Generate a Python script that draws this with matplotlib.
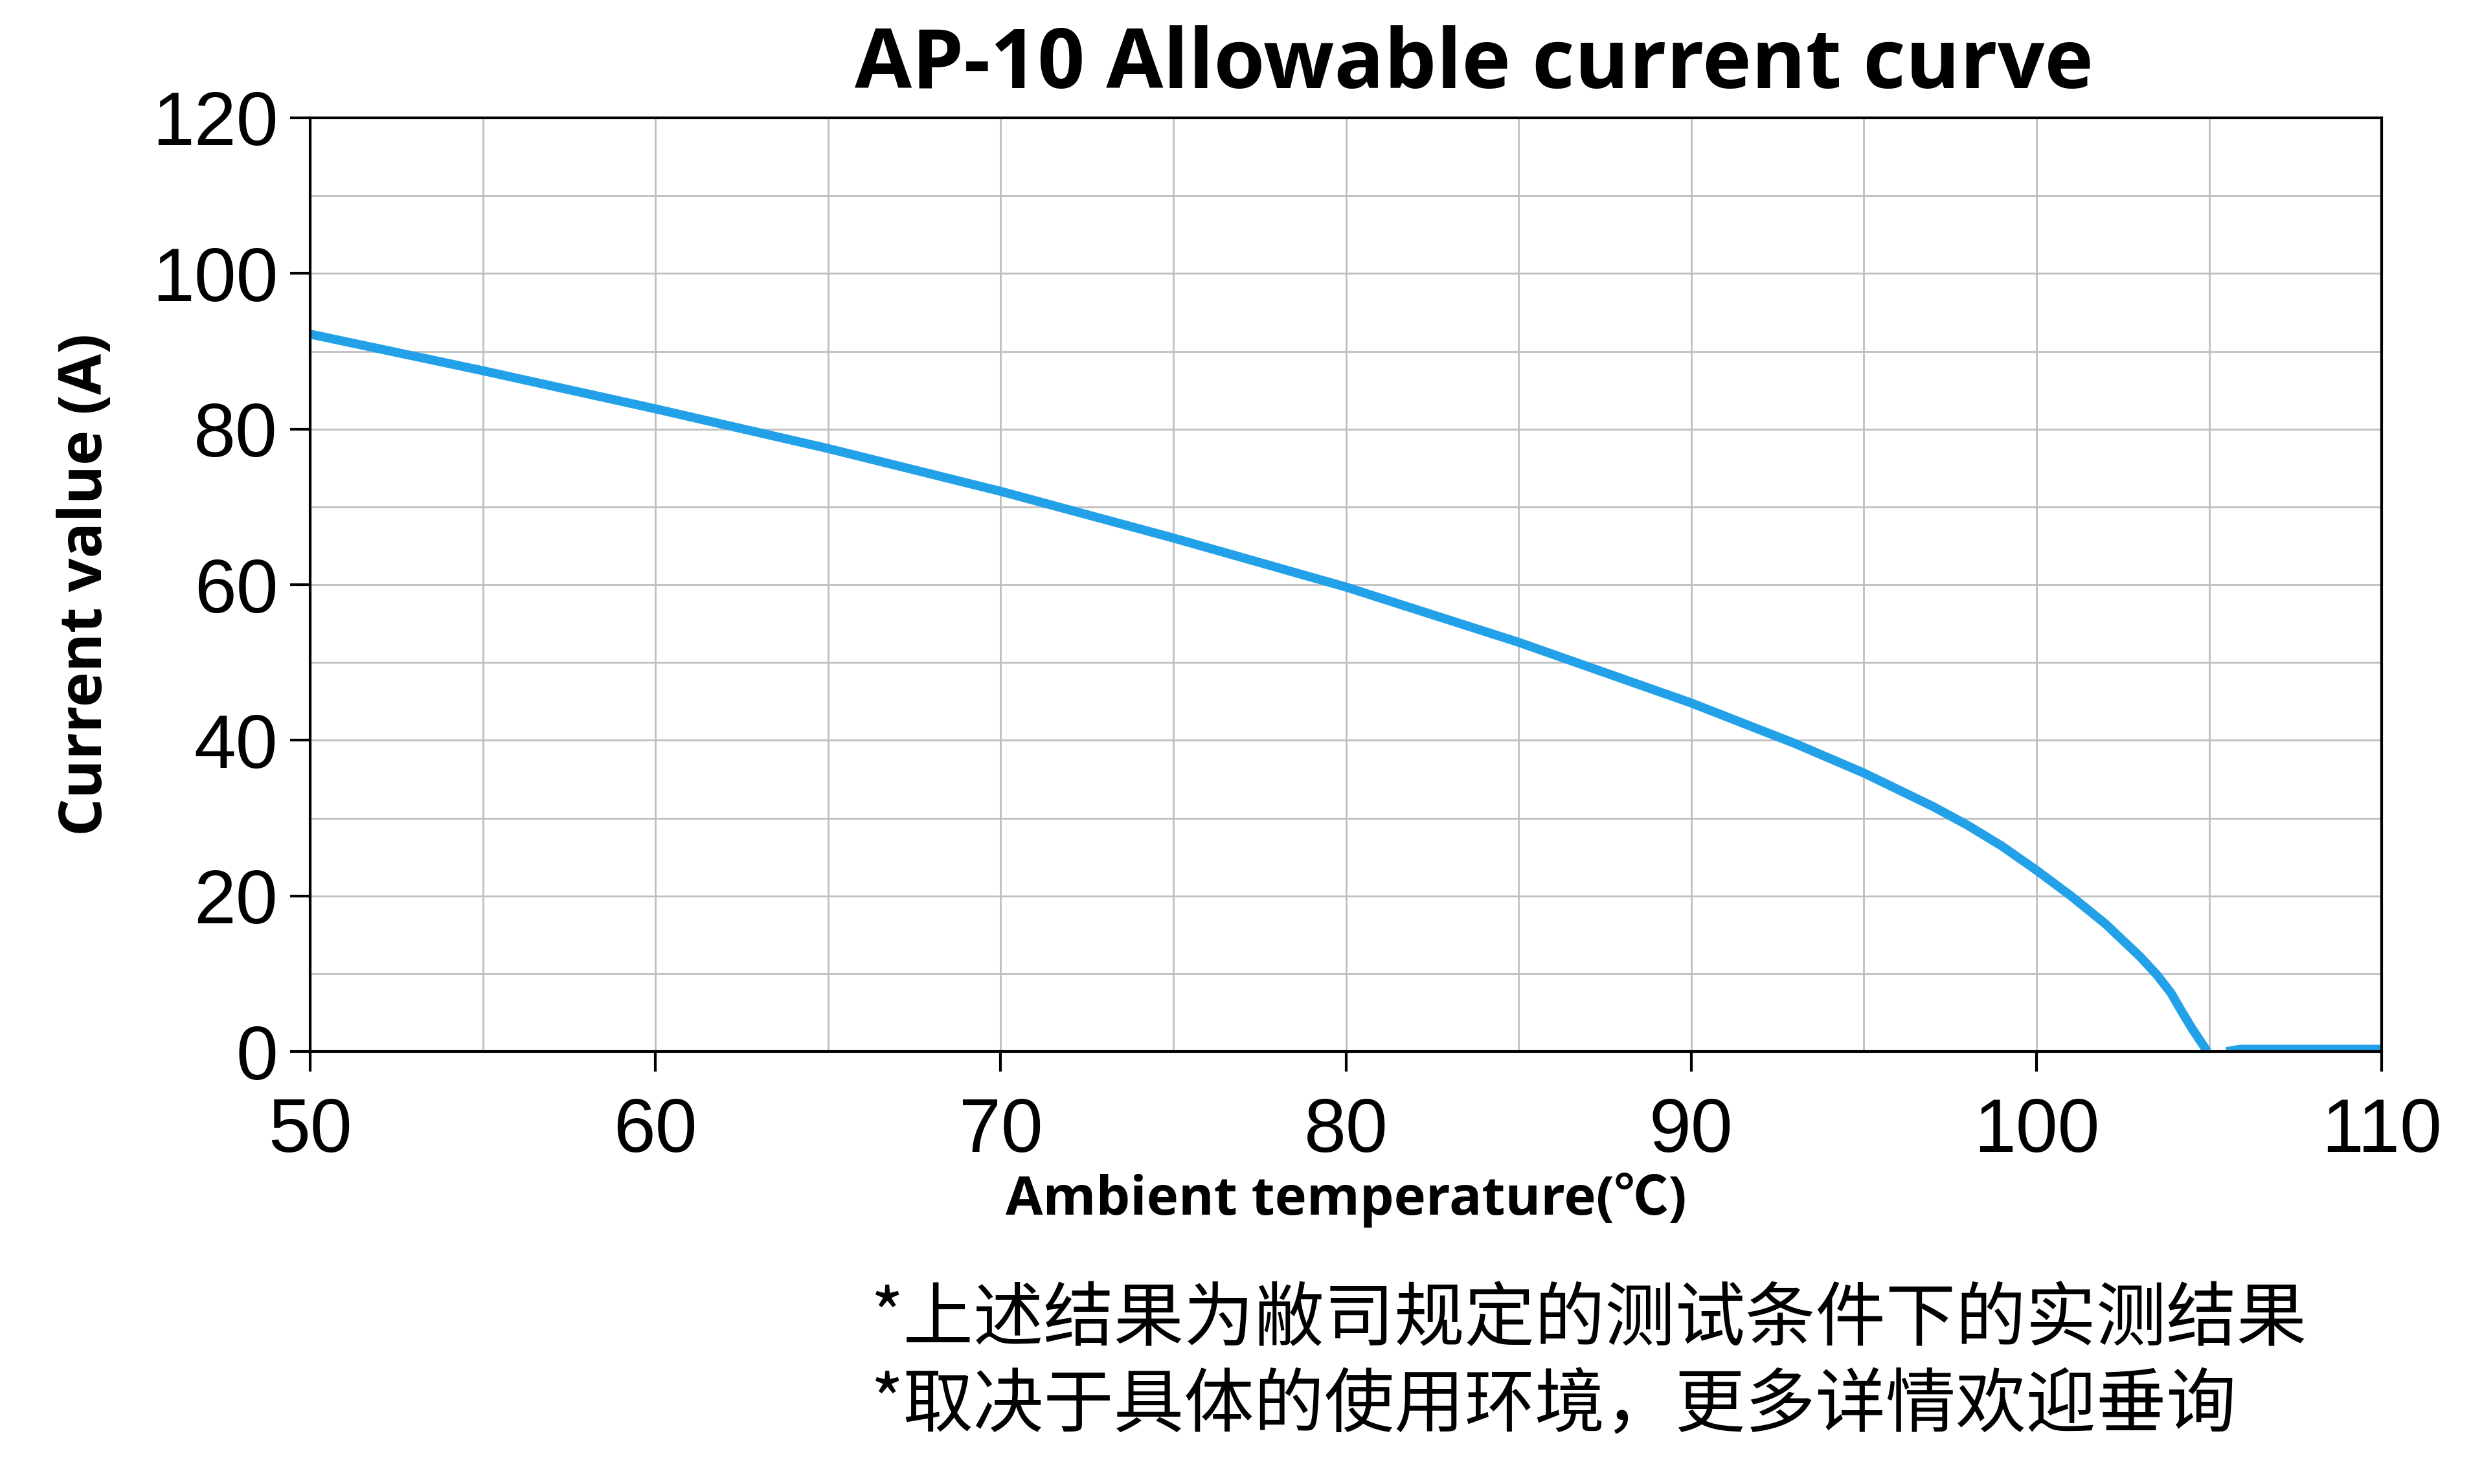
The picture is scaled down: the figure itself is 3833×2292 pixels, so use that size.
import matplotlib
matplotlib.use("Agg")
import matplotlib.pyplot as plt
from matplotlib import font_manager

temp1 = [50, 55, 60, 65, 70, 75, 80, 85, 90, 93, 95, 97, 98, 99, 100, 101, 102, 103, 103.5, 103.9, 104.2, 104.5, 104.8, 104.95]
cur1 = [92.2, 87.5, 82.6, 77.5, 72.0, 66.0, 59.7, 52.6, 44.8, 39.6, 35.8, 31.5, 29.1, 26.4, 23.3, 20.0, 16.4, 12.2, 9.8, 7.5, 5.2, 3.0, 1.0, 0.0]
temp2 = [105.5, 105.9, 110]
cur2 = [0.0, 0.3, 0.3]

names = {f.name for f in font_manager.fontManager.ttflist}
tickfont = 'Liberation Sans Narrow' if 'Liberation Sans Narrow' in names else 'Liberation Sans'

fig = plt.figure(figsize=(38.33, 22.92), dpi=100)
ax = fig.add_axes([0.125, 0.2914, 0.8346, 0.6292])
ax.plot(temp1, cur1, color='#22A1E8', lw=10, solid_capstyle='butt', solid_joinstyle='round')
ax.plot(temp2, cur2, color='#22A1E8', lw=10, solid_capstyle='butt')
ax.set_xlim(50, 110)
ax.set_ylim(0, 120)
ax.set_xticks(range(50, 111, 10))
ax.set_yticks(range(0, 121, 20))
ax.set_xticks(range(55, 111, 10), minor=True)
ax.set_yticks(range(10, 121, 20), minor=True)
ax.grid(True, which='both', color='#BFBFBF', lw=2)
ax.tick_params(which='major', direction='out', length=22, width=3, labelsize=84, pad=14)
ax.tick_params(axis='x', pad=28)
ax.tick_params(which='minor', length=0)
for lab in ax.get_xticklabels() + ax.get_yticklabels():
    lab.set_fontfamily(tickfont)
for s in ax.spines.values():
    s.set_linewidth(3)
ax.set_axisbelow(True)
ax.set_xlabel('Ambient temperature(℃)', fontsize=60, fontweight='bold', family=['Open Sans', 'Noto Sans CJK SC'], labelpad=6)
ax.set_ylabel('Current value (A)', fontsize=66, fontweight='bold', family=['Open Sans'], labelpad=40)
fig.text(0.594, 0.955, 'AP-10 Allowable current curve', fontsize=92, fontweight='bold', family=['Open Sans'], ha='center', va='center')
fig.text(0.351, 0.110, '*上述结果为敝司规定的测试条件下的实测结果', fontsize=78, family=['Noto Sans CJK SC'], ha='left', va='center')
fig.text(0.351, 0.052, '*取决于具体的使用环境，更多详情欢迎垂询', fontsize=78, family=['Noto Sans CJK SC'], ha='left', va='center')
fig.savefig('out.png', dpi=100)
